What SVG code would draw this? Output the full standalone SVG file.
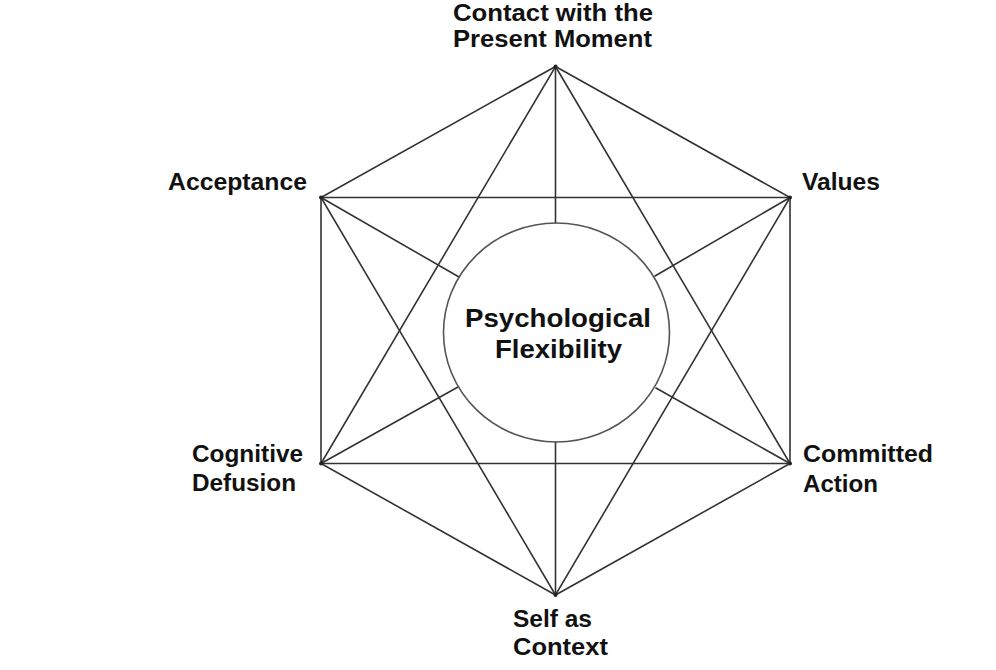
<svg xmlns="http://www.w3.org/2000/svg" width="996" height="670" viewBox="0 0 996 670">
<style>
.ln{stroke:#333;stroke-width:1.6;fill:none;stroke-linecap:round}
.lbl{font-family:"Liberation Sans",Arial,sans-serif;font-weight:bold;font-size:23px;fill:#111}
.ctr{font-family:"Liberation Sans",Arial,sans-serif;font-weight:bold;font-size:26px;fill:#111}
.dot{fill:#222}
</style>
<rect width="996" height="670" fill="#fff"/>
<g id="connectors">
<polygon class="ln" points="555.5,66.5 790,197.5 790,463.5 555.5,595 321,463.5 321,197.5"/>
<polygon class="ln" points="555.5,66.5 790,463.5 321,463.5"/>
<polygon class="ln" points="555.5,595 321,197.5 790,197.5"/>
<line class="ln" x1="555.5" y1="66.5" x2="555.5" y2="223"/>
<line class="ln" x1="555.5" y1="595" x2="555.5" y2="442"/>
<line class="ln" x1="321" y1="197.5" x2="459" y2="277"/>
<line class="ln" x1="790" y1="197.5" x2="655" y2="276"/>
<line class="ln" x1="321" y1="463.5" x2="458" y2="387"/>
<line class="ln" x1="790" y1="463.5" x2="656" y2="388"/>
</g>
<g id="center">
<ellipse cx="556.5" cy="332.5" rx="113" ry="109.5" fill="none" stroke="#555" stroke-width="1.6"/>
<text class="ctr" x="465" y="327" textLength="186" lengthAdjust="spacingAndGlyphs">Psychological</text>
<text class="ctr" x="495" y="358" textLength="127" lengthAdjust="spacingAndGlyphs">Flexibility</text>
</g>
<g id="contact">
<circle class="dot" cx="555.5" cy="66.5" r="2"/>
<text class="lbl" x="453" y="21" textLength="200" lengthAdjust="spacingAndGlyphs">Contact with the</text>
<text class="lbl" x="453" y="47" textLength="199" lengthAdjust="spacingAndGlyphs">Present Moment</text>
</g>
<g id="acceptance">
<circle class="dot" cx="321" cy="197.5" r="2"/>
<text class="lbl" x="168" y="190" textLength="139" lengthAdjust="spacingAndGlyphs">Acceptance</text>
</g>
<g id="values">
<circle class="dot" cx="790" cy="197.5" r="2"/>
<text class="lbl" x="802" y="190" textLength="78" lengthAdjust="spacingAndGlyphs">Values</text>
</g>
<g id="defusion">
<circle class="dot" cx="321" cy="463.5" r="2"/>
<text class="lbl" x="192" y="462" textLength="111" lengthAdjust="spacingAndGlyphs">Cognitive</text>
<text class="lbl" x="192" y="491" textLength="104" lengthAdjust="spacingAndGlyphs">Defusion</text>
</g>
<g id="committed">
<circle class="dot" cx="790" cy="463.5" r="2"/>
<text class="lbl" x="803" y="462" textLength="130" lengthAdjust="spacingAndGlyphs">Committed</text>
<text class="lbl" x="803" y="492" textLength="75" lengthAdjust="spacingAndGlyphs">Action</text>
</g>
<g id="self">
<circle class="dot" cx="555.5" cy="595" r="2"/>
<text class="lbl" x="513" y="627" textLength="79" lengthAdjust="spacingAndGlyphs">Self as</text>
<text class="lbl" x="513" y="655" textLength="95" lengthAdjust="spacingAndGlyphs">Context</text>
</g>
</svg>
